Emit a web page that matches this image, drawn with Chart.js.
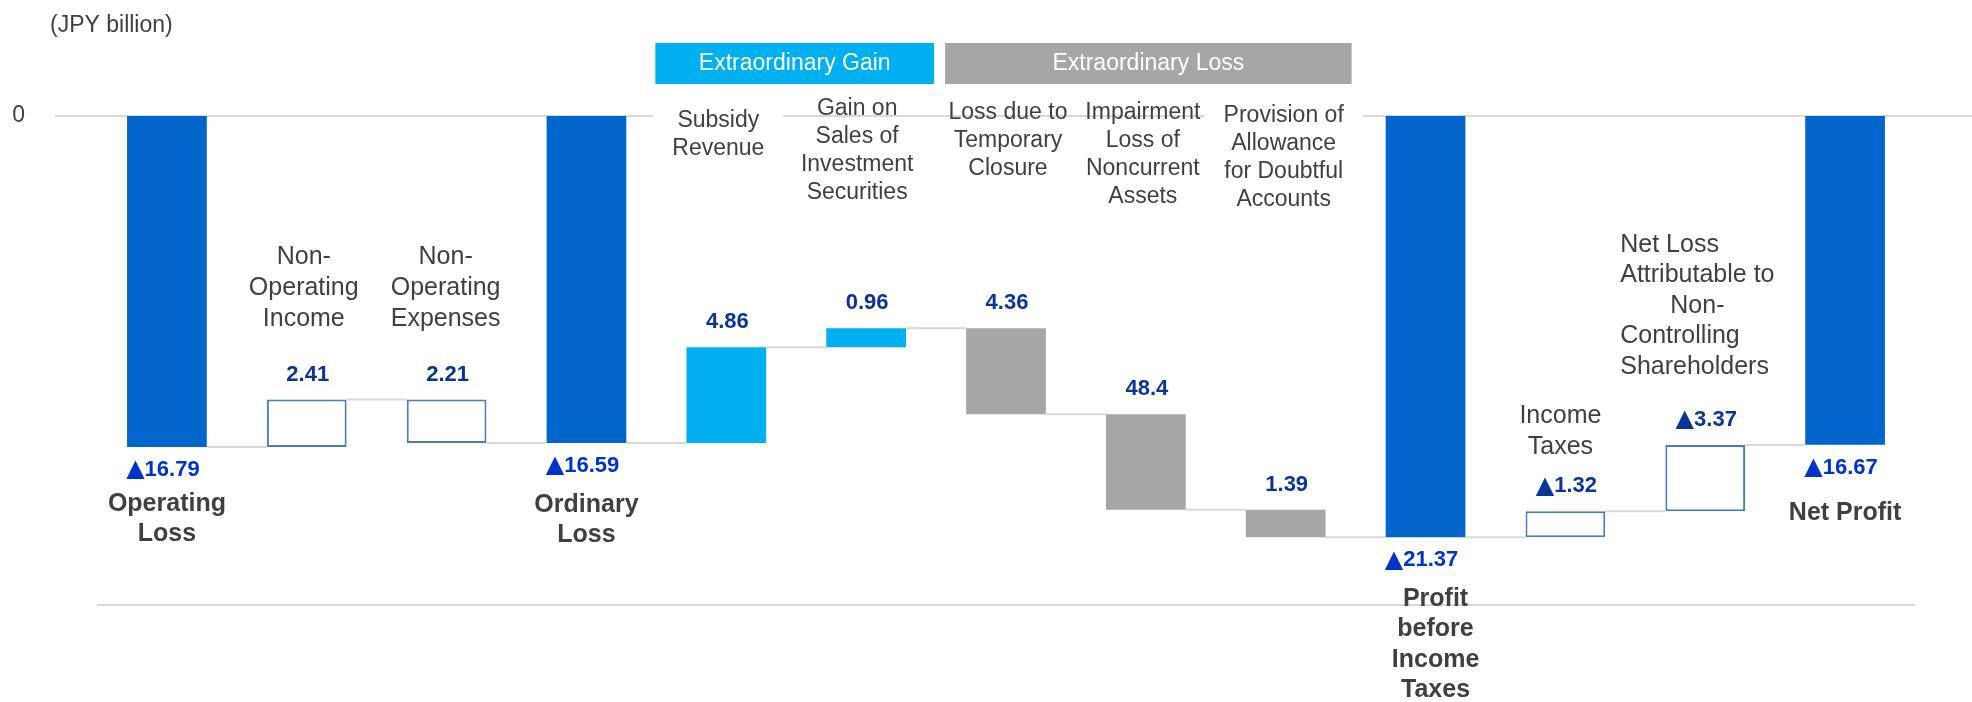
<!DOCTYPE html>
<html>
<head>
<meta charset="utf-8">
<script src="https://cdn.jsdelivr.net/npm/chart.js@4.4.1/dist/chart.umd.min.js"></script>
<style>
  html, body { margin: 0; padding: 0; background: #fff; }
  canvas { display: block; }
</style>
</head>
<body>
<canvas id="grafico" width="1972" height="702"></canvas>
<script>
// datos de la cascada (JPY billion)
const categories = [
  'Operating Loss', 'Non-Operating Income', 'Non-Operating Expenses', 'Ordinary Loss',
  'Subsidy Revenue', 'Gain on Sales of Investment Securities', 'Loss due to Temporary Closure',
  'Impairment Loss of Noncurrent Assets', 'Provision of Allowance for Doubtful Accounts',
  'Profit before Income Taxes', 'Income Taxes',
  'Net Loss Attributable to Non-Controlling Shareholders', 'Net Profit'
];
const amounts = [-16.79, 2.41, -2.21, -16.59, 4.86, 0.96, -4.36, -4.84, -1.39, -21.37, 1.32, 3.37, -16.67];
const kinds = ['total', 'other', 'other', 'total', 'gain', 'gain', 'loss', 'loss', 'loss', 'total', 'other', 'other', 'total'];
const valueLabels = ['▲16.79', '2.41', '2.21', '▲16.59', '4.86', '0.96', '4.36', '48.4', '1.39', '▲21.37', '▲1.32', '▲3.37', '▲16.67'];
const categoryLines = [
  ['Operating', 'Loss'],
  ['Non-', 'Operating', 'Income'],
  ['Non-', 'Operating', 'Expenses'],
  ['Ordinary', 'Loss'],
  ['Subsidy', 'Revenue'],
  ['Gain on', 'Sales of', 'Investment', 'Securities'],
  ['Loss due to', 'Temporary', 'Closure'],
  ['Impairment', 'Loss of', 'Noncurrent', 'Assets'],
  ['Provision of', 'Allowance', 'for Doubtful', 'Accounts'],
  ['Profit', 'before', 'Income', 'Taxes'],
  ['Income', 'Taxes'],
  ['Net Loss', 'Attributable to', 'Non-', 'Controlling', 'Shareholders'],
  ['Net Profit']
];
const yTicks = [0];
const Y_MIN = -24.8;
const unitLabel = '(JPY billion)';
const headers = [
  { text: 'Extraordinary Gain', from: 4, to: 5, color: '#00B0F0' },
  { text: 'Extraordinary Loss', from: 6, to: 8, color: '#A6A6A6' }
];

// estilos
const FONT = '"Liberation Sans", Arial, sans-serif';
const TRI_FONT = 'bold 24px "DejaVu Sans", sans-serif';
const TEXT_COLOR = '#404040';
const GRID_COLOR = '#D9D9D9';
const fillByKind = { total: '#0066CC', gain: '#00B0F0', loss: '#A6A6A6', other: '#FFFFFF' };
const borderByKind = { total: '#0066CC', gain: '#00B0F0', loss: '#A6A6A6', other: '#4A7CC6' };

// posición de los textos de categoría (y de la primera línea, px)
const labelLayout = [
  { y: 504, size: 25, lh: 30, bold: true },
  { y: 257, size: 25, lh: 31, dx: -3 },
  { y: 257, size: 25, lh: 31, dx: -1 },
  { y: 505, size: 25, lh: 30, bold: true },
  { y: 121, size: 23, lh: 28, dx: -8, mask: true },
  { y: 109, size: 23, lh: 28, dx: -9 },
  { y: 113, size: 23, lh: 28, dx: 2 },
  { y: 113, size: 23, lh: 28, dx: -3 },
  { y: 116, size: 23, lh: 28, dx: -2, mask: true },
  { y: 599, size: 25, lh: 30.5, bold: true, dx: 10 },
  { y: 416, size: 25, lh: 31, dx: -5 },
  { y: 245, size: 25, lh: 30.5, left: -85, centerLines: [2] },
  { y: 513, size: 25, lh: 30, bold: true }
];

// construir barras flotantes
const bars = [];
const levels = [];
let running = 0;
amounts.forEach((v, i) => {
  if (kinds[i] === 'total') {
    bars.push([0, v]);
    running = v;
  } else {
    bars.push([running, running + v]);
    running += v;
  }
  levels.push(running);
});

function line(ctx, x1, y1, x2, y2) {
  ctx.beginPath();
  ctx.moveTo(x1, y1);
  ctx.lineTo(x2, y2);
  ctx.stroke();
}

// texto con ▲ dibujado en otra fuente (más grande)
function valueText(ctx, text, cx, cy) {
  const numFont = 'bold 22px ' + FONT;
  let tri = '', rest = text;
  if (text.startsWith('▲')) { tri = '▲'; rest = text.slice(1); }
  ctx.font = TRI_FONT;
  const wTri = tri ? ctx.measureText(tri).width : 0;
  ctx.font = numFont;
  const wNum = ctx.measureText(rest).width;
  let x0 = cx - (wTri + wNum) / 2;
  ctx.textAlign = 'left';
  if (tri) {
    ctx.font = TRI_FONT;
    ctx.fillText(tri, x0, cy);
    x0 += wTri;
  }
  ctx.font = numFont;
  ctx.fillText(rest, x0, cy);
}

const decor = {
  id: 'decor',
  beforeDatasetsDraw(chart) {
    const { ctx, chartArea, scales: { y } } = chart;
    const meta = chart.getDatasetMeta(0);
    ctx.save();
    ctx.strokeStyle = GRID_COLOR;
    ctx.lineWidth = 2;
    const y0 = y.getPixelForValue(0);
    line(ctx, 55, y0, chart.width, y0);
    const yb = y.getPixelForValue(Y_MIN);
    line(ctx, chartArea.left, yb, chartArea.right, yb);
    for (let i = 0; i < meta.data.length - 1; i++) {
      const a = meta.data[i], b = meta.data[i + 1];
      const ly = y.getPixelForValue(levels[i]);
      line(ctx, a.x + a.width / 2, ly, b.x - b.width / 2, ly);
    }
    ctx.restore();
  },
  afterDatasetsDraw(chart) {
    const { ctx, scales: { x, y } } = chart;
    const catW = x.getPixelForValue(1) - x.getPixelForValue(0);
    ctx.save();
    ctx.textBaseline = 'middle';

    // unidad
    ctx.fillStyle = TEXT_COLOR;
    ctx.font = '23px ' + FONT;
    ctx.textAlign = 'left';
    ctx.fillText(unitLabel, 50, 26);

    // cabeceras
    headers.forEach((h, k) => {
      const x1 = x.getPixelForValue(h.from) - catW / 2 + (k === 0 ? -1 : 9);
      const x2 = x.getPixelForValue(h.to) + catW / 2 - (k === 0 ? 2 : 4);
      ctx.fillStyle = h.color;
      ctx.fillRect(x1, 43, x2 - x1, 41);
      ctx.fillStyle = '#FFFFFF';
      ctx.font = '23px ' + FONT;
      ctx.textAlign = 'center';
      ctx.fillText(h.text, (x1 + x2) / 2, 64);
    });

    // valores
    const meta = chart.getDatasetMeta(0);
    bars.forEach((b, i) => {
      const el = meta.data[i];
      if (kinds[i] === 'total') {
        ctx.fillStyle = '#0033CC';
        valueText(ctx, valueLabels[i], el.x - 4, y.getPixelForValue(Math.min(b[0], b[1])) + 23);
      } else {
        ctx.fillStyle = '#0B3499';
        valueText(ctx, valueLabels[i], el.x + 1, y.getPixelForValue(Math.max(b[0], b[1])) - 25);
      }
    });

    // categorías
    categoryLines.forEach((lines, i) => {
      const L = labelLayout[i];
      const cx = x.getPixelForValue(i) + (L.dx || 0);
      ctx.font = (L.bold ? 'bold ' : '') + L.size + 'px ' + FONT;
      if (L.mask) {
        const w = Math.max(...lines.map(t => ctx.measureText(t).width));
        ctx.fillStyle = '#FFFFFF';
        ctx.fillRect(cx - w / 2 - 19, L.y - L.lh / 2, w + 38, L.lh * lines.length);
      }
      ctx.fillStyle = TEXT_COLOR;
      if (L.left !== undefined) {
        const left = x.getPixelForValue(i) + L.left;
        const w = Math.max(...lines.map(t => ctx.measureText(t).width));
        lines.forEach((t, j) => {
          if ((L.centerLines || []).includes(j)) {
            ctx.textAlign = 'center';
            ctx.fillText(t, left + w / 2, L.y + j * L.lh);
          } else {
            ctx.textAlign = 'left';
            ctx.fillText(t, left, L.y + j * L.lh);
          }
        });
      } else {
        ctx.textAlign = 'center';
        lines.forEach((t, j) => ctx.fillText(t, cx, L.y + j * L.lh));
      }
    });
    ctx.restore();
  }
};

const ctx = document.getElementById('grafico').getContext('2d');
new Chart(ctx, {
  type: 'bar',
  data: {
    labels: categories,
    datasets: [{
      data: bars,
      backgroundColor: kinds.map(k => fillByKind[k]),
      borderColor: kinds.map(k => borderByKind[k]),
      borderWidth: kinds.map(k => (k === 'other' ? 2 : 0)),
      borderSkipped: false,
      categoryPercentage: 1,
      barPercentage: 0.57
    }]
  },
  options: {
    responsive: false,
    animation: false,
    devicePixelRatio: 1,
    layout: { padding: { top: 116, bottom: 97, right: 57, left: 0 } },
    plugins: { legend: { display: false }, tooltip: { enabled: false } },
    scales: {
      x: { display: false },
      y: {
        min: Y_MIN,
        max: 0,
        grid: { display: false, drawTicks: false },
        border: { display: false },
        afterBuildTicks: s => { s.ticks = yTicks.map(v => ({ value: v })); },
        afterFit: s => { s.width = 97; },
        ticks: { padding: 72, color: TEXT_COLOR, font: { size: 23, family: FONT } }
      }
    }
  },
  plugins: [decor]
});
</script>
</body>
</html>
